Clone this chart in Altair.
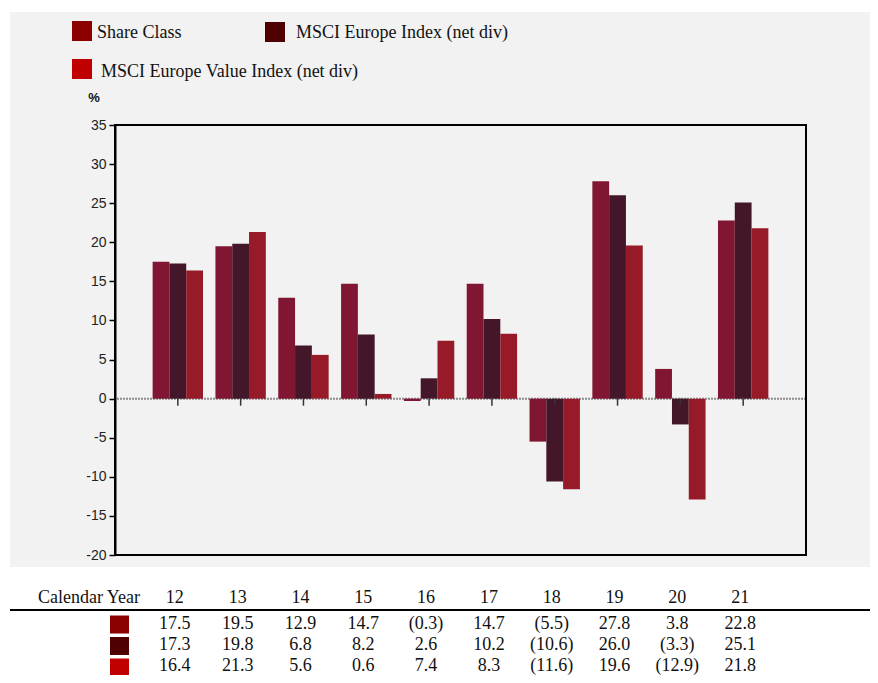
import altair as alt
import pandas as pd

years = ["12", "13", "14", "15", "16", "17", "18", "19", "20", "21"]
series = ["Share Class", "MSCI Europe Index (net div)", "MSCI Europe Value Index (net div)"]
share_class = [17.5, 19.5, 12.9, 14.7, -0.3, 14.7, -5.5, 27.8, 3.8, 22.8]
msci_europe = [17.3, 19.8, 6.8, 8.2, 2.6, 10.2, -10.6, 26.0, -3.3, 25.1]
msci_value = [16.4, 21.3, 5.6, 0.6, 7.4, 8.3, -11.6, 19.6, -12.9, 21.8]
y_ticks = [-20, -15, -10, -5, 0, 5, 10, 15, 20, 25, 30, 35]

bar_colors = ["#801632", "#431629", "#961a28"]
swatch_colors = ["#8b0000", "#4f0000", "#c00000"]


def fmt(v):
    return f"({abs(v):.1f})" if v < 0 else f"{v:.1f}"


rows = []
for s, vals in zip(series, [share_class, msci_europe, msci_value]):
    for yv, v in zip(years, vals):
        rows.append({"year": yv, "series": s, "value": v, "label": fmt(v)})
df = pd.DataFrame(rows)
df_years = pd.DataFrame({"year": years})
dummy = pd.DataFrame({"a": [0]})

W, H = 691, 430
serif = "Liberation Serif"
sans = "Liberation Sans"

x_enc = alt.X("year:N", sort=years, scale=alt.Scale(paddingInner=0, paddingOuter=0.5), axis=None)
y_scale = alt.Scale(domain=[-20, 35], nice=False, zero=False)
y_axis = alt.Axis(
    values=y_ticks, title=None, grid=False, domainColor="black", domainWidth=2,
    tickColor="black", tickSize=6, tickWidth=1.5, labelFont=sans, labelFontSize=14,
    labelColor="#222", labelPadding=3, zindex=1, labelExpr="datum.value + ''",
)

bg = alt.Chart(dummy).mark_rect(color="#f2f2f2").encode(
    x=alt.value(-105), x2=alt.value(755), y=alt.value(-113), y2=alt.value(442)
)

zero = alt.Chart(dummy).mark_rule(color="#8c8c8c", strokeDash=[2, 1], strokeWidth=2).encode(
    y=alt.Y(datum=0, scale=y_scale, axis=y_axis)
)

bars = alt.Chart(df).mark_bar().encode(
    x=x_enc,
    xOffset=alt.XOffset("series:N", sort=series, scale=alt.Scale(paddingOuter=0.37, paddingInner=0)),
    y=alt.Y("value:Q", scale=y_scale, axis=y_axis),
    color=alt.Color("series:N", scale=alt.Scale(domain=series, range=bar_colors), legend=None),
)

ticks = alt.Chart(df_years).mark_rule(color="#333", strokeWidth=1.5).encode(
    x=x_enc, y=alt.Y(datum=0, scale=y_scale, axis=y_axis), y2=alt.datum(-0.9)
)

frame = alt.Chart(dummy).mark_rect(fillOpacity=0, stroke="black", strokeWidth=2).encode(
    x=alt.value(0), x2=alt.value(W), y=alt.value(0), y2=alt.value(H)
)

pct = alt.Chart(dummy).mark_text(font=sans, fontSize=13, fontWeight="bold", color="#111").encode(
    x=alt.value(-21), y=alt.value(-27), text=alt.value("%")
)

layers = [bg, zero, bars, ticks, frame, pct]

# legend
leg_sw = [(-43, -104), (150, -103), (-43, -66)]
leg_tx = [(-18, -87), (181, -87), (-14, -48)]
for s, c, (sx, sy), (tx, ty) in zip(series, swatch_colors, leg_sw, leg_tx):
    layers.append(
        alt.Chart(dummy).mark_rect(color=c).encode(
            x=alt.value(sx), x2=alt.value(sx + 20), y=alt.value(sy), y2=alt.value(sy + 20)
        )
    )
    layers.append(
        alt.Chart(dummy).mark_text(font=serif, fontSize=18, align="left", baseline="alphabetic", color="#111").encode(
            x=alt.value(tx), y=alt.value(ty), text=alt.value(s)
        )
    )

# table
layers.append(
    alt.Chart(dummy).mark_text(font=serif, fontSize=18, align="right", baseline="alphabetic", color="#111").encode(
        x=alt.value(25), y=alt.value(478), text=alt.value("Calendar Year")
    )
)
layers.append(
    alt.Chart(df_years).mark_text(font=serif, fontSize=18, baseline="alphabetic", dx=-3, color="#111").encode(
        x=x_enc, y=alt.value(478), text="year:N"
    )
)
layers.append(
    alt.Chart(dummy).mark_rule(color="black", strokeWidth=2).encode(
        x=alt.value(-105), x2=alt.value(755), y=alt.value(485)
    )
)
for i, (s, c) in enumerate(zip(series, swatch_colors)):
    top = 490.5 + 21.5 * i
    layers.append(
        alt.Chart(dummy).mark_rect(color=c).encode(
            x=alt.value(-5), x2=alt.value(14), y=alt.value(top), y2=alt.value(top + 18)
        )
    )
    layers.append(
        alt.Chart(df[df.series == s]).mark_text(font=serif, fontSize=18, baseline="alphabetic", dx=-3, color="#111").encode(
            x=x_enc, y=alt.value(503.5 + 21.3 * i), text="label:N"
        )
    )

chart = alt.layer(*layers).properties(
    width=W,
    height=H,
    autosize=alt.AutoSizeParams(type="none"),
    padding={"left": 107, "top": 117, "right": 64, "bottom": 120},
    background="white",
).configure_view(stroke=None)

chart.save("out.html", embed_options={"renderer": "svg", "actions": False})
